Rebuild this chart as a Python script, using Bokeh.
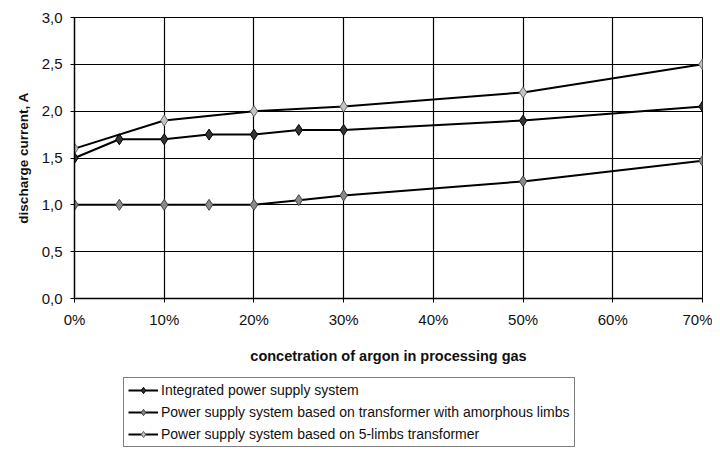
from bokeh.plotting import figure
from bokeh.layouts import column
from bokeh.models import FixedTicker, CustomJSTickFormatter, Legend, LegendItem, Range1d
from bokeh.embed import file_html
from bokeh.resources import INLINE

x_all = [0, 5, 10, 15, 20, 25, 30, 50, 70]
integrated = [1.5, 1.7, 1.7, 1.75, 1.75, 1.8, 1.8, 1.9, 2.05]
amorphous = [1.0, 1.0, 1.0, 1.0, 1.0, 1.05, 1.1, 1.25, 1.47]
x_five = [0, 10, 20, 30, 50, 70]
five_limbs = [1.6, 1.9, 2.0, 2.05, 2.2, 2.5]
x_ticks = [0, 10, 20, 30, 40, 50, 60, 70]
y_ticks = [0.0, 0.5, 1.0, 1.5, 2.0, 2.5, 3.0]
labels = ["Integrated power supply system",
          "Power supply system based on transformer with amorphous limbs",
          "Power supply system based on 5-limbs transformer"]

FONT = "Liberation Sans"
styles = [dict(fill_color="#333333", line_color="black"),
          dict(fill_color="#8a8a8a", line_color="#444444"),
          dict(fill_color="#c4c4c4", line_color="#666666")]

p = figure(output_backend="svg", toolbar_location=None,
           x_range=Range1d(0, 70), y_range=Range1d(0, 3.0),
           frame_width=628, frame_height=281,
           min_border_left=74, min_border_right=10, min_border_top=17, min_border_bottom=70)

p.background_fill_color = "white"
p.border_fill_color = "white"
p.outline_line_color = "black"
p.outline_line_width = 1

for ax in (p.xaxis[0], p.yaxis[0]):
    ax.axis_line_color = "black"
    ax.axis_line_width = 1.5
    ax.major_tick_line_color = "black"
    ax.major_tick_out = 4
    ax.major_tick_in = 0
    ax.minor_tick_line_color = None
    ax.major_label_text_font = FONT
    ax.major_label_text_font_size = "15px"
    ax.major_label_text_color = "#111111"
    ax.axis_label_text_font = FONT
    ax.axis_label_text_font_style = "bold"
    ax.axis_label_text_color = "#111111"

p.xaxis.axis_label_text_font_size = "14.5px"
p.yaxis.axis_label_text_font_size = "13.5px"
p.xaxis.ticker = FixedTicker(ticks=x_ticks)
p.yaxis.ticker = FixedTicker(ticks=y_ticks)
p.xaxis.formatter = CustomJSTickFormatter(code="return tick.toFixed(0) + '%';")
p.yaxis.formatter = CustomJSTickFormatter(code="return tick.toFixed(1).replace('.', ',');")
p.xaxis.axis_label = "concetration of argon in processing gas"
p.yaxis.axis_label = "discharge current, A"
p.xaxis.major_label_standoff = 8
p.xaxis.axis_label_standoff = 17
p.yaxis.major_label_standoff = 8
p.yaxis.axis_label_standoff = 8

p.xgrid.ticker = FixedTicker(ticks=x_ticks)
p.ygrid.ticker = FixedTicker(ticks=y_ticks)
p.xgrid.grid_line_color = "black"
p.ygrid.grid_line_color = "black"
p.xgrid.grid_line_width = 1.2
p.ygrid.grid_line_width = 1.2

series = [(x_all, integrated), (x_all, amorphous), (x_five, five_limbs)]
for (xs, ys), st in zip(series, styles):
    p.line(xs, ys, line_color="black", line_width=2)
    p.scatter(xs, ys, marker="diamond", size=11, line_width=1, **st)

# legend panel below the chart (its dummy renderers sit outside its ranges)
p2 = figure(output_backend="svg", toolbar_location=None, width=712, height=87,
            x_range=Range1d(0, 1), y_range=Range1d(0, 1),
            x_axis_location=None, y_axis_location=None,
            min_border=0)
p2.outline_line_color = None
p2.xgrid.visible = False
p2.ygrid.visible = False
items = []
for lab, st in zip(labels, styles):
    lr = p2.line([5, 6], [5, 5], line_color="black", line_width=2)
    mr = p2.scatter([5, 6], [5, 5], marker="diamond", size=9, line_width=1, **st)
    items.append(LegendItem(label=lab, renderers=[lr, mr]))

legend = Legend(items=items, location=(49, 8))
legend.label_text_font = FONT
legend.label_text_font_size = "14px"
legend.label_text_color = "#111111"
legend.glyph_width = 30
legend.glyph_height = 16
legend.spacing = 6
legend.padding = 4
legend.margin = 0
legend.label_standoff = 3
legend.border_line_color = "black"
legend.border_line_width = 1.2
legend.background_fill_color = "white"
legend.background_fill_alpha = 1
p2.add_layout(legend, "center")

layout = column(p, p2, spacing=0)
open("out.html", "w").write(file_html(layout, INLINE))
